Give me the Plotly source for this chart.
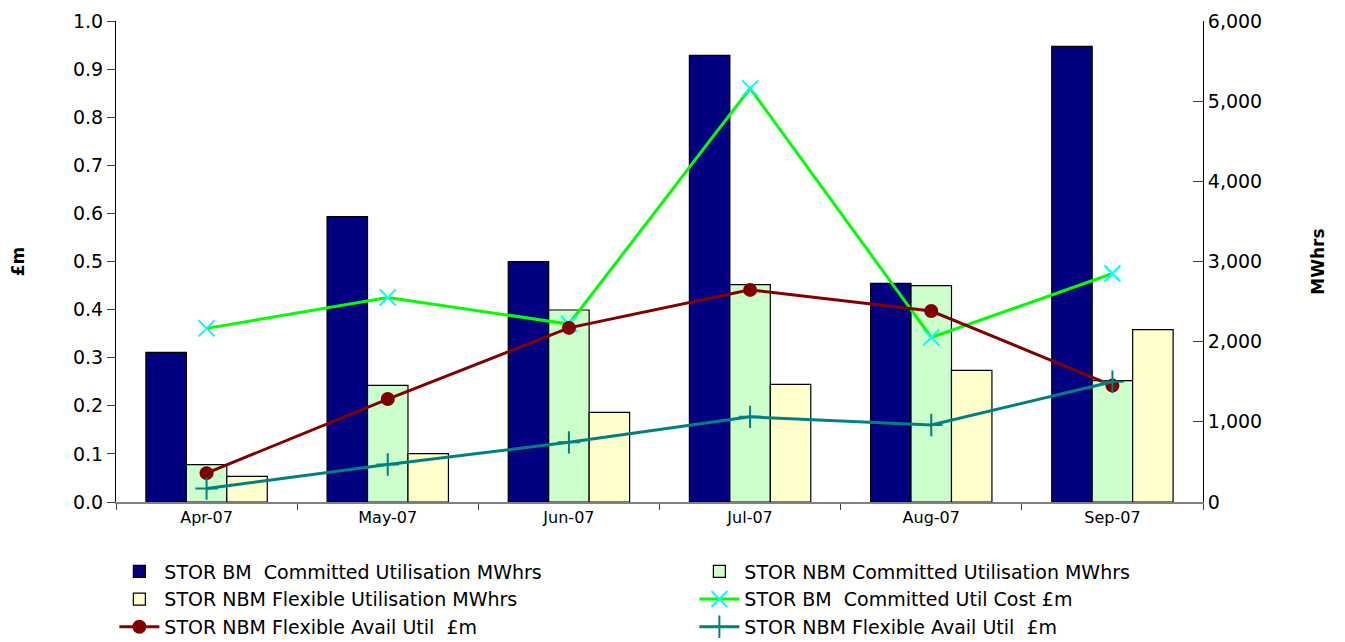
import plotly.graph_objects as go

months = ["Apr-07", "May-07", "Jun-07", "Jul-07", "Aug-07", "Sep-07"]

bm_committed_mwh = [1867, 3559, 2998, 5572, 2728, 5684]
nbm_committed_mwh = [465, 1455, 2395, 2711, 2698, 1513]
nbm_flexible_mwh = [320, 603, 1119, 1468, 1643, 2149]

bm_committed_cost = [0.361, 0.425, 0.370, 0.860, 0.342, 0.475]
nbm_flex_avail_1 = [0.060, 0.214, 0.362, 0.441, 0.397, 0.242]
nbm_flex_avail_2 = [0.028, 0.078, 0.124, 0.177, 0.160, 0.250]

left_ticks = [0.0, 0.1, 0.2, 0.3, 0.4, 0.5, 0.6, 0.7, 0.8, 0.9, 1.0]
right_ticks = [0, 1000, 2000, 3000, 4000, 5000, 6000]

FONT = "DejaVu Sans, Liberation Sans, Arial, sans-serif"

fig = go.Figure()
fig.add_trace(go.Bar(x=months, y=bm_committed_mwh, name="STOR BM\u00a0 Committed Utilisation MWhrs",
                     marker=dict(color="#000080", line=dict(color="black", width=1.2)), yaxis="y"))
fig.add_trace(go.Bar(x=months, y=nbm_committed_mwh, name="STOR NBM Committed Utilisation MWhrs",
                     marker=dict(color="#CCFFCC", line=dict(color="black", width=1.2)), yaxis="y"))
fig.add_trace(go.Bar(x=months, y=nbm_flexible_mwh, name="STOR NBM Flexible Utilisation MWhrs",
                     marker=dict(color="#FFFFCC", line=dict(color="black", width=1.2)), yaxis="y"))
fig.add_trace(go.Scatter(x=months, y=bm_committed_cost, name="STOR BM\u00a0 Committed Util Cost £m",
                         mode="lines+markers", yaxis="y2",
                         line=dict(color="#00FF00", width=3),
                         marker=dict(symbol="x-thin", size=16, color="#00FFFF",
                                     line=dict(color="#00FFFF", width=2))))
fig.add_trace(go.Scatter(x=months, y=nbm_flex_avail_1, name="STOR NBM Flexible Avail Util\u00a0 £m",
                         mode="lines+markers", yaxis="y2",
                         line=dict(color="#800000", width=3),
                         marker=dict(symbol="circle", size=14, color="#800000")))
fig.add_trace(go.Scatter(x=months, y=nbm_flex_avail_2, name="STOR NBM Flexible Avail Util\u00a0 £m",
                         mode="lines+markers", yaxis="y2",
                         line=dict(color="#008080", width=3),
                         marker=dict(symbol="cross-thin", size=16, color="#008080",
                                     line=dict(color="#008080", width=2))))

fig.update_layout(
    width=1337, height=634,
    margin=dict(l=108, r=142, t=13, b=140, autoexpand=False),
    paper_bgcolor="white", plot_bgcolor="white",
    font=dict(family=FONT, color="black"),
    barmode="group", bargap=0.33, bargroupgap=0,
    showlegend=True,
    legend=dict(orientation="h", x=-0.0015, y=-0.105, xanchor="left", yanchor="top",
                entrywidth=525, entrywidthmode="pixels",
                font=dict(size=19, family=FONT), traceorder="normal",
                itemwidth=40, tracegroupgap=0),
    xaxis=dict(type="category", showline=True, linecolor="#808080", linewidth=1.5,
               ticks="outside", tickson="boundaries", ticklen=6, tickcolor="#404040",
               tickfont=dict(size=16, family=FONT), showgrid=False, zeroline=False),
    yaxis=dict(side="right", range=[0, 6000], tickvals=right_ticks,
               tickformat=",d", showline=True, linecolor="black", linewidth=1,
               ticks="inside", ticklen=10, tickcolor="#404040",
               tickfont=dict(size=19, family=FONT), showgrid=False, zeroline=False,
               title=dict(text="<b>MWhrs</b>", font=dict(size=17, family=FONT), standoff=50)),
    yaxis2=dict(side="left", overlaying="y", range=[0, 1.0], tickvals=left_ticks,
                tickformat=".1f", showline=True, linecolor="black", linewidth=1,
                ticks="outside", ticklen=8, tickcolor="#404040",
                tickfont=dict(size=19, family=FONT), showgrid=False, zeroline=False,
                title=dict(text="<b>£m</b>", font=dict(size=17, family=FONT), standoff=52)),
)

fig.write_html("out.html")
